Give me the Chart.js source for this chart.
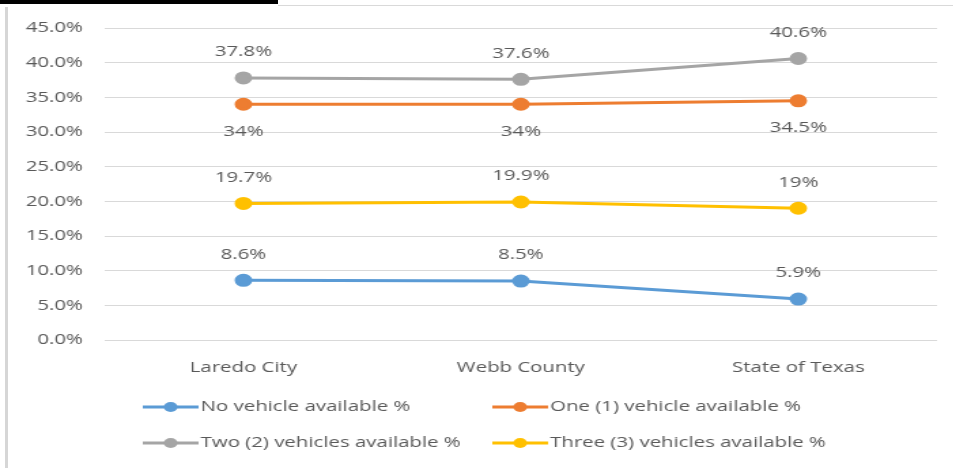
<!DOCTYPE html>
<html>
<head>
<meta charset="utf-8">
<script src="https://cdn.jsdelivr.net/npm/chart.js@4.4.0/dist/chart.umd.min.js"></script>
<style>
  html, body { margin: 0; padding: 0; background: #fff; }
  #page { position: relative; width: 953px; height: 468px; overflow: hidden; }
  #topbar { position: absolute; left: 0; top: 0; width: 278px; height: 4px; background: #000; }
  #topline { position: absolute; left: 278px; top: 5px; width: 675px; height: 1px; background: #d9d9d9; }
  #leftline { position: absolute; left: 5px; top: 7px; width: 3px; height: 461px; background: #d6d6d6; }
  /* the chart is drawn narrow and stretched sideways */
  #wrap { position: absolute; left: 0; top: 0; width: 701px; height: 468px;
          transform: scaleX(1.36); transform-origin: 0 0; }
</style>
</head>
<body>
<div id="page">
  <div id="wrap"><canvas id="vehicles" width="701" height="468"></canvas></div>
  <div id="topbar"></div>
  <div id="topline"></div>
  <div id="leftline"></div>
</div>
<script>
const categories = ['Laredo City', 'Webb County', 'State of Texas'];
const noVehicle = [8.6, 8.5, 5.9];
const oneVehicle = [34, 34, 34.5];
const twoVehicles = [37.8, 37.6, 40.6];
const threeVehicles = [19.7, 19.9, 19];

const textColor = '#595959';
const fontName = '"Open Sans", "DejaVu Sans", sans-serif';

function series(label, values, color, below) {
  return {
    label: label,
    data: values,
    borderColor: color,
    backgroundColor: color,
    pointBackgroundColor: color,
    pointBorderColor: color,
    borderWidth: 3,
    pointRadius: 5,
    pointHoverRadius: 5,
    tension: 0,
    labelBelow: below
  };
}

// value text above (or below) every point
const valueLabels = {
  id: 'valueLabels',
  afterDatasetsDraw(chart) {
    const ctx = chart.ctx;
    ctx.save();
    ctx.font = '15px ' + fontName;
    ctx.fillStyle = textColor;
    ctx.textAlign = 'center';
    ctx.textBaseline = 'middle';
    chart.data.datasets.forEach((ds, i) => {
      chart.getDatasetMeta(i).data.forEach((pt, j) => {
        const dy = ds.labelBelow ? 27 : -26;
        ctx.fillText(ds.data[j] + '%', pt.x, pt.y + dy);
      });
    });
    ctx.restore();
  }
};

// two-column legend with line + marker samples
const lineLegend = {
  id: 'lineLegend',
  afterDraw(chart) {
    const ctx = chart.ctx;
    const cols = [105, 362];
    const rows = [407, 443];
    ctx.save();
    ctx.font = '15px ' + fontName;
    ctx.textAlign = 'left';
    ctx.textBaseline = 'middle';
    chart.data.datasets.forEach((ds, i) => {
      const x = cols[i % 2];
      const y = rows[Math.floor(i / 2)];
      ctx.strokeStyle = ds.borderColor;
      ctx.lineWidth = 3;
      ctx.beginPath();
      ctx.moveTo(x, y);
      ctx.lineTo(x + 41, y);
      ctx.stroke();
      ctx.fillStyle = ds.borderColor;
      ctx.beginPath();
      ctx.arc(x + 20.5, y, 5, 0, Math.PI * 2);
      ctx.fill();
      ctx.fillStyle = textColor;
      ctx.fillText(ds.label, x + 42.5, y);
    });
    ctx.restore();
  }
};

new Chart(document.getElementById('vehicles'), {
  type: 'line',
  data: {
    labels: categories,
    datasets: [
      series('No vehicle available %', noVehicle, '#5b9bd5', false),
      series('One (1) vehicle available %', oneVehicle, '#ed7d31', true),
      series('Two (2) vehicles available %', twoVehicles, '#a5a5a5', false),
      series('Three (3) vehicles available %', threeVehicles, '#ffc000', false)
    ]
  },
  options: {
    responsive: false,
    maintainAspectRatio: false,
    animation: false,
    layout: { padding: { top: 28, right: 12, bottom: 83, left: 0 } },
    plugins: {
      legend: { display: false },
      tooltip: { enabled: false }
    },
    scales: {
      x: {
        offset: true,
        grid: { display: false, drawTicks: false },
        border: { display: false },
        ticks: { color: textColor, font: { family: fontName, size: 15 }, padding: 19 },
        afterFit(s) { s.height = 45; }
      },
      y: {
        min: 0,
        max: 45,
        grid: { color: '#d9d9d9', lineWidth: 1, drawTicks: false },
        border: { display: false },
        ticks: {
          stepSize: 5,
          color: textColor,
          font: { family: fontName, size: 15 },
          padding: 16,
          callback: v => v.toFixed(1) + '%'
        },
        afterFit(s) { s.width = 77; }
      }
    }
  },
  plugins: [valueLabels, lineLegend]
});
</script>
</body>
</html>
